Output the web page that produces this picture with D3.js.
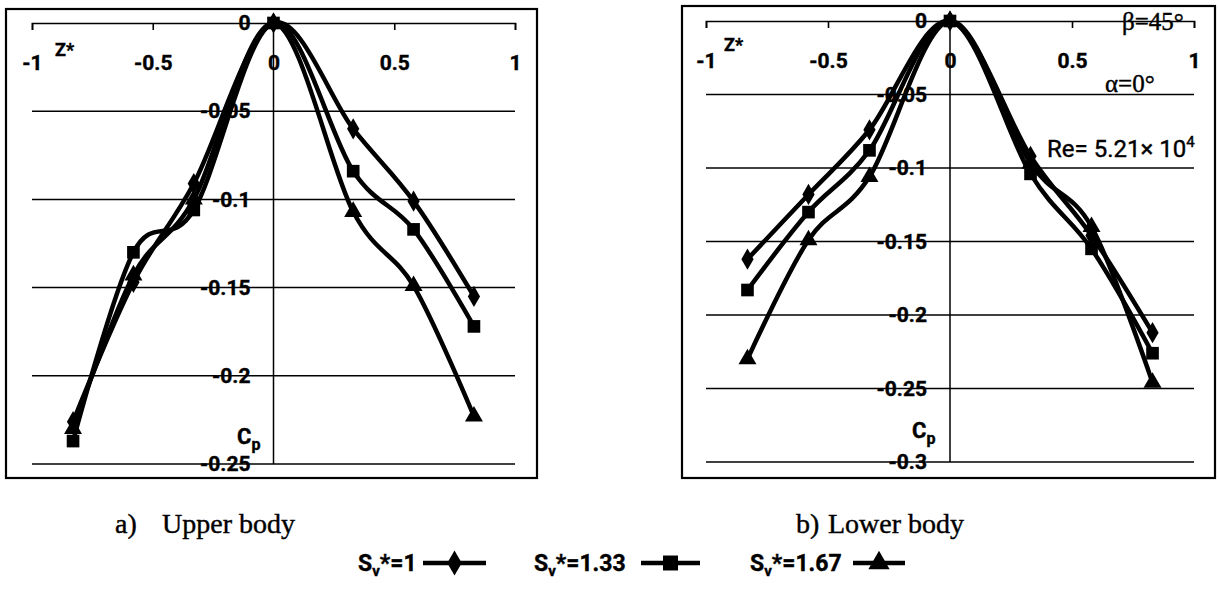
<!DOCTYPE html>
<html>
<head>
<meta charset="utf-8">
<script src="https://cdn.jsdelivr.net/npm/d3@7"></script>
<style>
body { margin: 0; background: #fff; }
text { fill: #000; stroke: #000; stroke-width: 0.4px; }
</style>
</head>
<body>
<div id="a"></div>
<script>
// spanwise positions of the pressure taps
var zPos = [-0.83, -0.58, -0.33, 0, 0.33, 0.58, 0.83];

// a) upper body, Cp for each Sv*
var upperSv1   = [-0.226, -0.147, -0.091, 0, -0.060, -0.101, -0.155];
var upperSv133 = [-0.237, -0.130, -0.106, 0, -0.084, -0.117, -0.172];
var upperSv167 = [-0.230, -0.143, -0.100, 0, -0.107, -0.149, -0.223];

// b) lower body
var lowerSv1   = [-0.162, -0.118, -0.074, 0, -0.092, -0.146, -0.212];
var lowerSv133 = [-0.183, -0.130, -0.088, 0, -0.104, -0.155, -0.226];
var lowerSv167 = [-0.230, -0.149, -0.106, 0, -0.097, -0.140, -0.246];

var seriesNames = ["1", "1.33", "1.67"];

var xTicks      = [-1, -0.5, 0, 0.5, 1];
var xTickLabels = ["-1", "-0.5", "0", "0.5", "1"];
var upperTicks      = [0, -0.05, -0.1, -0.15, -0.2, -0.25];
var upperTickLabels = ["0", "-0.05", "-0.1", "-0.15", "-0.2", "-0.25"];
var lowerTicks      = [0, -0.05, -0.1, -0.15, -0.2, -0.25, -0.3];
var lowerTickLabels = ["0", "-0.05", "-0.1", "-0.15", "-0.2", "-0.25", "-0.3"];

var captions = ["a)", "Upper body", "b)", "Lower body"];


var w = 1220, h = 604,
	sans  = "Roboto, 'Noto Sans', sans-serif",
	serif = "'Liberation Serif', 'DejaVu Serif', serif",
	symbols = [d3.symbolDiamond, d3.symbolSquare, d3.symbolTriangle],
	symSize = [130, 160, 140];

var svg = d3.select("#a").append("svg")
	.attr("width", w)
	.attr("height", h)
	.style("background-color", "#fff");

var line = d3.line()
	.curve(d3.curveCardinal.tension(0));


function panel(p) {
	var g = svg.append("g");

	var x = d3.scaleLinear().domain([-1, 1]).range(p.xr);
	var y = d3.scaleLinear().domain([0, p.ticks[p.ticks.length - 1]]).range(p.yr);

	// outer box
	g.append("rect")
		.attr("x", p.box[0]).attr("y", p.box[1])
		.attr("width", p.box[2]).attr("height", p.box[3])
		.attr("fill", "none").attr("stroke", "#000").attr("stroke-width", 2.2);

	// horizontal gridlines (0 is the axis itself)
	g.selectAll(".grid")
		.data(p.ticks.slice(1))
		.enter().append("line")
		.attr("x1", x(-1)).attr("x2", x(1))
		.attr("y1", d => y(d)).attr("y2", d => y(d))
		.attr("stroke", "#000").attr("stroke-width", 1.5);

	// vertical axis through z=0
	g.append("line")
		.attr("x1", x(0)).attr("x2", x(0))
		.attr("y1", y(0)).attr("y2", y(p.ticks[p.ticks.length - 1]))
		.attr("stroke", "#000").attr("stroke-width", 1.5);

	var yAx = g.append("g")
		.attr("transform", "translate(" + x(0) + ",0)")
		.call(d3.axisLeft(y).tickValues(p.ticks)
			.tickFormat((d, i) => p.tickLabels[i])
			.tickSize(0).tickPadding(23));
	yAx.select(".domain").remove();
	yAx.selectAll("text")
		.attr("font-family", sans).attr("font-weight", "bold").attr("font-size", 21);

	// z axis along Cp = 0, ticks hang down, labels well below
	var xAx = g.append("g")
		.attr("transform", "translate(0," + y(0) + ")")
		.call(d3.axisBottom(x).tickValues(xTicks)
			.tickFormat((d, i) => xTickLabels[i])
			.tickSize(7).tickPadding(25));
	xAx.selectAll("path,line").attr("stroke-width", 1.6);
	xAx.selectAll("text")
		.attr("font-family", sans).attr("font-weight", "bold").attr("font-size", 21);

	g.append("text")
		.attr("x", p.zLab[0]).attr("y", p.zLab[1])
		.attr("font-family", sans).attr("font-weight", "bold").attr("font-size", 18)
		.text("Z*");

	var cp = g.append("text")
		.attr("x", p.cpLab[0]).attr("y", p.cpLab[1])
		.attr("font-family", sans).attr("font-weight", "bold").attr("font-size", 22)
		.text("C");
	cp.append("tspan").attr("dy", 6).attr("font-size", 16).text("p");

	// curves and markers
	p.series.forEach(function (vals, k) {
		var pts = zPos.map((z, i) => [x(z), y(vals[i])]);
		g.append("path")
			.attr("d", line(pts))
			.attr("fill", "none").attr("stroke", "#000").attr("stroke-width", 4.5);
		g.selectAll(".m" + k)
			.data(pts)
			.enter().append("path")
			.attr("transform", d => "translate(" + d[0] + "," + d[1] + ")")
			.attr("d", d3.symbol().type(symbols[k]).size(symSize[k]))
			.attr("fill", "#000");
	});

	g.append("text")
		.attr("x", p.cap[0]).attr("y", p.cap[2])
		.attr("font-family", serif).attr("font-size", 28)
		.text(p.capText[0]);
	g.append("text")
		.attr("x", p.cap[1]).attr("y", p.cap[2])
		.attr("font-family", serif).attr("font-size", 28)
		.text(p.capText[1]);

	return { x: x, y: y, g: g };
}


panel({
	box: [6, 9, 531, 469],
	xr: [32, 515], yr: [23, 464],
	ticks: upperTicks, tickLabels: upperTickLabels,
	series: [upperSv1, upperSv133, upperSv167],
	zLab: [55, 56], cpLab: [237, 444],
	cap: [115, 162, 533], capText: captions.slice(0, 2)
});

var right = panel({
	box: [682, 6, 533, 472],
	xr: [706, 1194], yr: [21, 462],
	ticks: lowerTicks, tickLabels: lowerTickLabels,
	series: [lowerSv1, lowerSv133, lowerSv167],
	zLab: [724, 51], cpLab: [912, 438],
	cap: [796, 828, 533], capText: captions.slice(2, 4)
});

// flow conditions written on the lower body plot
right.g.append("text").attr("x", 1122).attr("y", 30)
	.attr("font-family", serif).attr("font-size", 25).text("β=45°");
right.g.append("text").attr("x", 1105).attr("y", 92)
	.attr("font-family", serif).attr("font-size", 25).text("α=0°");
var re = right.g.append("text").attr("x", 1047).attr("y", 157)
	.attr("font-family", sans).attr("font-size", 24).text("Re= 5.21× 10");
re.append("tspan").attr("dy", -10).attr("font-size", 15).text("4");


// legend along the bottom
var legX = [358, 534, 750];
var legLine = [[423, 486], [641, 700], [853, 905]];
var legY = 563;

seriesNames.forEach(function (n, k) {
	var t = svg.append("text")
		.attr("x", legX[k]).attr("y", legY + 8)
		.attr("font-family", sans).attr("font-weight", "bold").attr("font-size", 23)
		.text("S");
	t.append("tspan").attr("dy", 5).attr("font-size", 15).text("v");
	t.append("tspan").attr("dy", -5).text("*=" + n);

	svg.append("line")
		.attr("x1", legLine[k][0]).attr("x2", legLine[k][1])
		.attr("y1", legY).attr("y2", legY)
		.attr("stroke", "#000").attr("stroke-width", 4.5);
	svg.append("path")
		.attr("transform", "translate(" + (legLine[k][0] + legLine[k][1]) / 2 + "," + legY + ")")
		.attr("d", d3.symbol().type(symbols[k]).size(symSize[k] * 1.4))
		.attr("fill", "#000");
});
</script>
</body>
</html>
